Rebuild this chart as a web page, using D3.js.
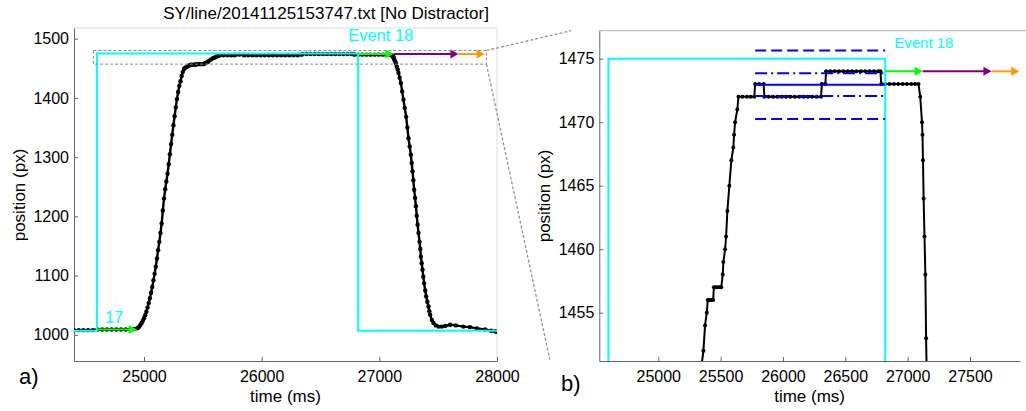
<!DOCTYPE html>
<html>
<head>
<meta charset="utf-8">
<script src="https://cdn.jsdelivr.net/npm/d3@7"></script>
<style>
  body { margin: 0; background: #fff; }
  svg { display: block; font-family: "Liberation Sans", Arial, Helvetica, sans-serif; }
</style>
</head>
<body>
<svg id="chart" width="1026" height="411"></svg>
<script>
// ---------------- DATA ----------------
const titleText = "SY/line/20141125153747.txt [No Distractor]";

// cursor trace (time in ms, position in px)
const timeMs = [
  24405,24445,24485,24525,24565,24605,24645,24685,24725,24765,24805,24845,24885,24915,24940,
  24950,24960,24970,24980,24990,25000,25010,25020,25030,25040,25050,25060,25070,25080,25090,
  25100,25110,25120,25130,25140,25150,25160,25170,25180,25190,25200,25210,25220,25230,25240,
  25250,25260,25270,25280,25290,25300,25310,25320,25330,25340,25349,25362,25375,25389,25397,
  25410,25425,25440,25446,25460,25475,25490,25505,25517,25522,25536,25544,25554,25570,25586,
  25602,25608,25616,25634,25643,
  25675,25710,25740,25770,25777,25810,25845,25851,25885,25920,25955,25990,26025,26060,26095,
  26130,26165,26200,26235,26270,26305,26312,26340,26346,26380,26415,26450,26485,26520,26555,
  26590,26625,26660,26695,26730,26765,26782,26788,26820,26855,26890,26925,26960,26995,27030,
  27060,27087,
  27101,27115,27119,27123,27128,27135,27142,27148,27156,27163,27173,27183,27194,27205,27216,
  27228,27238,27248,27258,27268,27275,27282,27289,27296,27304,27311,27318,27325,27333,27342,
  27348,27353,27360,27367,27374,27381,27390,27398,27408,27418,27425,27432,27446,27460,27480,
  27503,27530,27560,27602,27650,27715,27770,27829,27900,27950,27985,28000
];
const positionPx = [
  1008,1008,1008,1008,1008,1009,1009,1009,1009,1009,1009,1009,1010,1010,1011,
  1012,1014,1017,1020,1024,1028,1033,1039,1046,1054,1062,1071,1081,1092,1103,
  1115,1129,1143,1157,1172,1188,1210,1230,1246,1259,1272,1288,1305,1322,1338,
  1354,1369,1384,1398,1410,1420,1428,1437,1444,1449,1451,1452,1454,1455,1456,
  1456,1456,1456,1457,1457,1457,1457,1457,1458,1459,1460,1461,1463,1465,1467,
  1468,1469,1470,1471,1472,
  1472,1472,1472,1472,1473,1473,1473,1472,1472,1472,1472,1472,1472,1472,1472,
  1472,1472,1472,1472,1472,1472,1473,1473,1474,1474,1474,1474,1474,1474,1474,
  1474,1474,1474,1474,1474,1474,1474,1473,1473,1473,1473,1473,1473,1473,1473,
  1473,1473,
  1472,1470,1469,1467,1464,1461,1458,1453,1448,1442,1434,1425,1411,1397,1383,
  1368,1350,1332,1318,1304,1290,1276,1261,1245,1231,1217,1201,1186,1172,1157,
  1145,1132,1121,1110,1098,1087,1075,1065,1056,1048,1040,1034,1025,1020,1016,
  1014,1014,1015,1017,1016,1014,1013,1011,1009,1007,1006,1005
];

// target (step) positions of the events
const targetTimes = [24405, 24600, 26820, 28000];
const targetPos   = [1007, 1475, 1007, 1007];

// phase arrows
const arrowNames = ["reaction17", "reaction18", "movement18", "verify18"];
const arrowStart = [24600, 26820, 27120, 27672];
const arrowEnd   = [24940, 27120, 27672, 27895];
const arrowPos   = [1009, 1474, 1474, 1474];

// stability band (mean and standard deviation of position)
const bandStart = 25777;
const bandEnd   = 26820;
const bandMean  = 1472.95;
const bandSd    = 0.9;

// zoom box shown on panel a
const zoomTimes = [24570, 27910];
const zoomPos   = [1457, 1480];

// ticks
const leftXTicks  = [25000, 26000, 27000, 28000];
const leftYTicks  = [1000, 1100, 1200, 1300, 1400, 1500];
const rightXTicks = [25000, 25500, 26000, 26500, 27000, 27500];
const rightYTicks = [1455, 1460, 1465, 1470, 1475];

// ---------------- STYLES ----------------
const arrowColor = { reaction17: "#00ff00", reaction18: "#00ff00", movement18: "#7f007f", verify18: "#ff9900" };
const CYAN = "#00ffff", BLUE = "#0000ff";

const svg = d3.select("#chart");
svg.append("rect").attr("width", 1026).attr("height", 411).attr("fill", "#fff");

const trace = timeMs.map((t, i) => ({ t, p: positionPx[i] }));
const target = targetTimes.map((t, i) => ({ t, p: targetPos[i] }));

function panel(opt) {
  const { x, y, id } = opt;
  const [x0, x1] = x.range(), [y0, y1] = y.range(); // y0 bottom, y1 top
  const g = svg.append("g");
  svg.append("clipPath").attr("id", id).append("rect")
    .attr("x", x0).attr("y", y1).attr("width", x1 - x0).attr("height", y0 - y1);

  // frame
  if (opt.box) {
    g.append("line").attr("x1", x0).attr("x2", x1).attr("y1", y1).attr("y2", y1).attr("stroke", "#dcdcdc");
    g.append("line").attr("x1", x1).attr("x2", x1).attr("y1", y1).attr("y2", y0).attr("stroke", "#dcdcdc");
  } else {
    g.append("line").attr("x1", x0).attr("x2", x1 + 6).attr("y1", y1).attr("y2", y1).attr("stroke", "#b5b5b5");
  }

  // axes
  const ax = g.append("g").attr("transform", `translate(0,${y0})`)
    .call(d3.axisBottom(x).tickValues(opt.xTicks).tickFormat(d3.format("d")).tickSize(-4).tickSizeOuter(0).tickPadding(10));
  const ay = g.append("g").attr("transform", `translate(${x0},0)`)
    .call(d3.axisLeft(y).tickValues(opt.yTicks).tickFormat(d3.format("d")).tickSize(-4).tickSizeOuter(0).tickPadding(5));
  [ax, ay].forEach(a => {
    a.select(".domain").attr("stroke", "#666");
    a.selectAll(".tick line").attr("stroke", "#666");
    a.selectAll(".tick text").attr("font-size", 16).attr("fill", "#000")
      .attr("font-family", "Liberation Sans, Arial, sans-serif");
  });

  const plot = g.append("g").attr("clip-path", `url(#${id})`);

  // cursor trace
  const line = d3.line().x(d => x(d.t)).y(d => y(d.p));
  plot.append("path").datum(trace).attr("d", line)
    .attr("fill", "none").attr("stroke", "#000").attr("stroke-width", opt.lw).attr("stroke-linejoin", "round");
  plot.selectAll("circle.pt").data(trace).join("circle").attr("class", "pt")
    .attr("cx", d => x(d.t)).attr("cy", d => y(d.p)).attr("r", opt.r).attr("fill", "#000");

  // target step
  const step = d3.line().curve(d3.curveStepAfter).x(d => x(d.t)).y(d => y(d.p));
  plot.append("path").datum(target).attr("d", step)
    .attr("fill", "none").attr("stroke", CYAN).attr("stroke-width", 2);

  return { g, plot };
}

function drawArrows(g, x, y, which) {
  which.forEach(i => {
    const xa = x(arrowStart[i]), xb = x(arrowEnd[i]), yy = y(arrowPos[i]);
    const c = arrowColor[arrowNames[i]];
    g.append("line").attr("x1", xa).attr("x2", xb - 3).attr("y1", yy).attr("y2", yy)
      .attr("stroke", c).attr("stroke-width", 2);
    g.append("path").attr("d", d3.line()([[xb, yy], [xb - 8, yy - 4.5], [xb - 8, yy + 4.5]]) + "Z")
      .attr("fill", c);
  });
}

// ---------------- PANEL A ----------------
const xL = d3.scaleLinear().domain([24405, 28000]).range([74, 497]);
const yL = d3.scaleLinear().domain([955.9, 1518]).range([361, 28]);
const A = panel({ x: xL, y: yL, id: "clipA", xTicks: leftXTicks, yTicks: leftYTicks, box: true, lw: 2.4, r: 2.2 });
drawArrows(A.g, xL, yL, [0, 1, 2, 3]);

// zoom box
A.g.append("rect")
  .attr("x", xL(zoomTimes[0])).attr("y", yL(zoomPos[1]))
  .attr("width", xL(zoomTimes[1]) - xL(zoomTimes[0])).attr("height", yL(zoomPos[0]) - yL(zoomPos[1]))
  .attr("fill", "none").attr("stroke", "#8c8c8c").attr("stroke-width", 1).attr("stroke-dasharray", "3,2");

A.g.append("text").attr("x", xL(targetTimes[1]) + 8).attr("y", 323).attr("font-size", 16.5).attr("fill", CYAN).text("17");
A.g.append("text").attr("x", xL(targetTimes[2]) - 10).attr("y", 41).attr("font-size", 16.5).attr("fill", CYAN).text("Event 18");

// ---------------- PANEL B ----------------
const xR = d3.scaleLinear().domain([24527, 27901]).range([599.3, 1020]);
const yR = d3.scaleLinear().domain([1451.2, 1477.2]).range([361, 30.7]);
const B = panel({ x: xR, y: yR, id: "clipB", xTicks: rightXTicks, yTicks: rightYTicks, box: false, lw: 2, r: 2 });

// stability band lines
const bandLines = [
  { v: bandMean + 3 * bandSd, dash: "11,5" },
  { v: bandMean + bandSd, dash: "12,4,2,4" },
  { v: bandMean, dash: null },
  { v: bandMean - bandSd, dash: "12,4,2,4" },
  { v: bandMean - 3 * bandSd, dash: "11,5" }
];
B.plot.selectAll("line.band").data(bandLines).join("line").attr("class", "band")
  .attr("x1", xR(bandStart)).attr("x2", xR(bandEnd))
  .attr("y1", d => yR(d.v)).attr("y2", d => yR(d.v))
  .attr("stroke", BLUE).attr("stroke-width", 2)
  .attr("stroke-dasharray", d => d.dash);

drawArrows(B.g, xR, yR, [1, 2, 3]);
B.g.append("text").attr("x", xR(targetTimes[2]) + 9).attr("y", 48).attr("font-size", 15).attr("fill", CYAN).text("Event 18");

// connectors from zoom box to panel b
const conn = [
  [[xL(zoomTimes[1]), yL(zoomPos[1])], [xR(24300), yR(1477.2)]],
  [[xL(zoomTimes[1]), yL(zoomPos[0])], [xR(24130), yR(1451.3)]]
];
svg.selectAll("path.conn").data(conn).join("path").attr("class", "conn")
  .attr("d", d => d3.line()(d)).attr("fill", "none")
  .attr("stroke", "#8c8c8c").attr("stroke-width", 1.2).attr("stroke-dasharray", "3,2");

// ---------------- TEXT ----------------
svg.append("text").attr("x", 326).attr("y", 19).attr("text-anchor", "middle").attr("font-size", 17).text(titleText);

svg.append("text").attr("x", 285.5).attr("y", 402).attr("text-anchor", "middle").attr("font-size", 17).text("time (ms)");
svg.append("text").attr("x", 809.6).attr("y", 402).attr("text-anchor", "middle").attr("font-size", 17).text("time (ms)");
svg.append("text").attr("transform", "translate(25,195) rotate(-90)").attr("text-anchor", "middle").attr("font-size", 17).text("position (px)");
svg.append("text").attr("transform", "translate(550,196) rotate(-90)").attr("text-anchor", "middle").attr("font-size", 17).text("position (px)");

svg.append("text").attr("x", 19).attr("y", 384).attr("font-size", 22).text("a)");
svg.append("text").attr("x", 561).attr("y", 391).attr("font-size", 22).text("b)");
</script>
</body>
</html>
